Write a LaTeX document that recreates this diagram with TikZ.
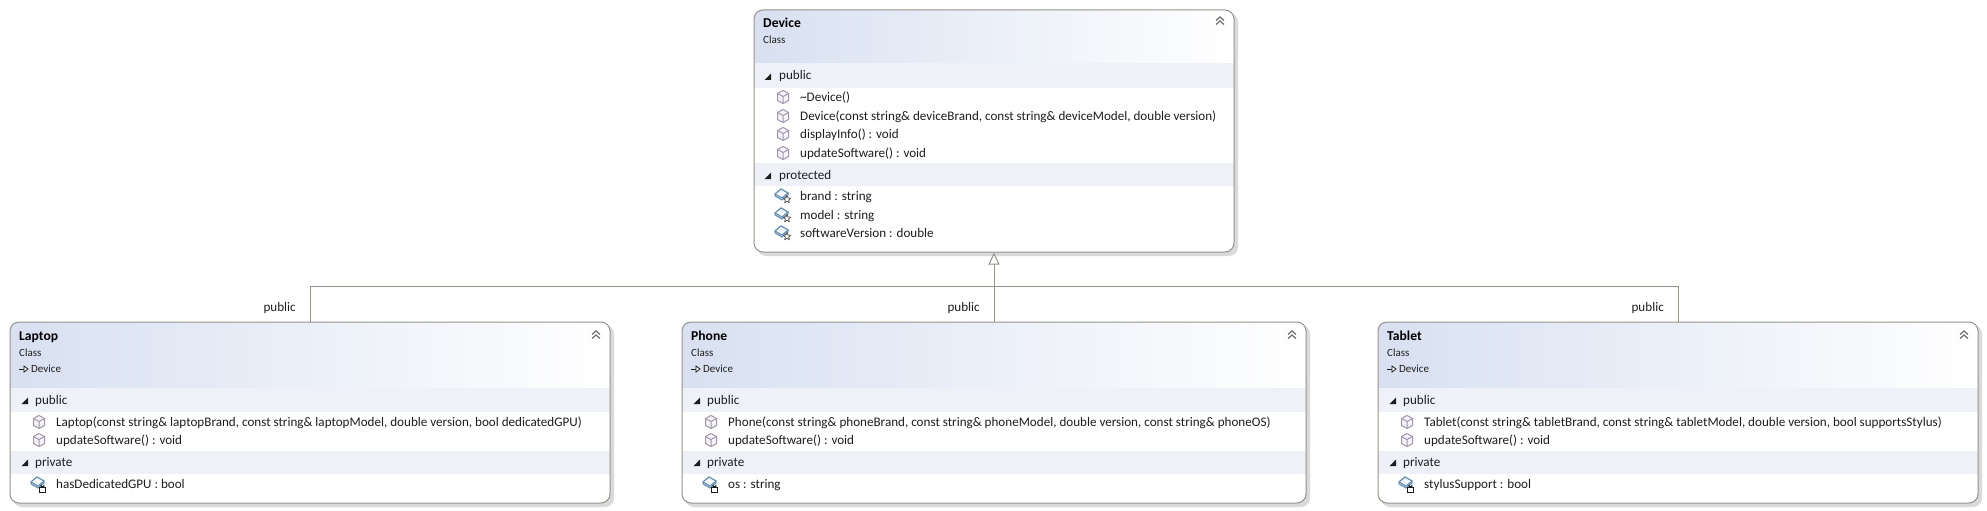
\documentclass[tikz,border=0pt]{standalone}
\usepackage{fontspec}
\setmainfont{Carlito}
\usetikzlibrary{arrows.meta,backgrounds}

\definecolor{boxline}{HTML}{93938B}
\definecolor{boxshadow}{HTML}{DADADA}
\definecolor{headleft}{HTML}{D8E0F1}
\definecolor{bandfill}{HTML}{EEF1F8}
\definecolor{cubeline}{HTML}{A194B0}
\definecolor{fieldline}{HTML}{5F8AB2}
\definecolor{textdark}{HTML}{1E1E1E}

\tikzset{
    classbox/.style={draw=boxline, line width=1pt, rounded corners=9pt, inner sep=0pt},
    shadowfill/.style={fill=boxshadow, rounded corners=9pt},
    whitefill/.style={fill=white, rounded corners=9pt},
    headfill/.style={left color=headleft, right color=white, rounded corners=9pt},
    band/.style={fill=bandfill},
    link/.style={draw=boxline, line width=1pt},
    inherit/.style={link, -{Triangle[open, fill=white, length=12pt, width=11pt]}},
    title/.style={anchor=west, inner sep=0pt, yshift=-1pt, text=black, font=\fontsize{13.6}{15}\selectfont\bfseries, text height=9pt, text depth=3pt},
    kind/.style={anchor=west, inner sep=0pt, yshift=-.5pt, text=textdark, font=\fontsize{11}{13}\selectfont, text height=8pt, text depth=2pt},
    rowtext/.style={anchor=west, inner sep=0pt, yshift=-1pt, text=textdark, font=\fontsize{13.1}{16}\selectfont, text height=9pt, text depth=3pt},
    linklabel/.style={rowtext, anchor=east},
    methodicon/.pic={
        \draw[cubeline, line width=1pt, fill=cubeline!10, line join=round] (0,-6.5) -- (5.5,-3.5) -- (5.5,3.5) -- (0,6.5) -- (-5.5,3.5) -- (-5.5,-3.5) -- cycle;
        \draw[cubeline, line width=1pt] (-5.5,-3.5) -- (0,-.5) -- (5.5,-3.5) (0,-.5) -- (0,6.5);
    },
    fieldbody/.pic={
        \draw[fieldline, line width=1pt, fill=fieldline!30, line join=round] (-7,-1) -- (-1,-6) -- (6,-2) -- (6,0) -- (0,5) -- (-7,1) -- cycle;
        \draw[fieldline, line width=1pt, fill=fieldline!8] (-7,-1) -- (-1,-6) -- (6,-2) -- (0,3) -- cycle;
    },
    fieldstar/.pic={
        \pic {fieldbody};
        \draw[textdark!80, line width=.7pt, fill=white, line join=round] (5,0.5) -- (6,3) -- (8.8,3.2) -- (6.7,5) -- (7.4,7.8) -- (5,6.3) -- (2.6,7.8) -- (3.3,5) -- (1.2,3.2) -- (4,3) -- cycle;
    },
    fieldlock/.pic={
        \pic {fieldbody};
        \draw[textdark, line width=.8pt, fill=white] (1.5,4) rectangle (7.5,9);
        \draw[textdark, line width=.8pt] (3,4) -- (3,2.5) arc[start angle=180, end angle=360, x radius=1.5, y radius=-1.5] -- (6,4);
    },
    expander/.pic={
        \fill[textdark] (-3.5,3) -- (3,3) -- (3,-3.5) -- cycle;
    },
    chevrons/.pic={
        \draw[textdark!65, line width=1.2pt] (-4,-.5) -- (0,-4) -- (4,-.5) (-4,3.5) -- (0,0) -- (4,3.5);
    },
    inheritmark/.pic={
        \draw[textdark, line width=.9pt] (0,0) -- (5,0);
        \draw[textdark, line width=.8pt, fill=white] (5,-3) -- (9,0) -- (5,3) -- cycle;
    },
}

\begin{document}
\begin{tikzpicture}[x=1pt, y=-1pt]
    \useasboundingbox (0,0) rectangle (1987,511);

    % Class outlines, panels go behind them
    \node[classbox, minimum width=480pt, minimum height=242pt] (device) at (994,131) {};
    \node[classbox, minimum width=600pt, minimum height=181pt] (laptop) at (310,412.5) {};
    \node[classbox, minimum width=624pt, minimum height=181pt] (phone) at (994,412.5) {};
    \node[classbox, minimum width=600pt, minimum height=181pt] (tablet) at (1678,412.5) {};

    \begin{scope}[on background layer]
        % Device panels
        \fill[shadowfill] (757,13) rectangle (1238,256);
        \fill[whitefill] (754,10) rectangle (1234,252);
        \shade[headfill] (754,63) -- (754,10) -- (1234,10) -- (1234,63) [sharp corners] -- cycle;
        \fill[band] (754,63) rectangle (1234,88);
        \fill[band] (754,163) rectangle (1234,186);
        % Laptop panels
        \fill[shadowfill] (13,325) rectangle (614,507);
        \fill[whitefill] (10,322) rectangle (610,503);
        \shade[headfill] (10,388) -- (10,322) -- (610,322) -- (610,388) [sharp corners] -- cycle;
        \fill[band] (10,388) rectangle (610,412);
        \fill[band] (10,451) rectangle (610,474);
        % Phone panels
        \fill[shadowfill] (685,325) rectangle (1310,507);
        \fill[whitefill] (682,322) rectangle (1306,503);
        \shade[headfill] (682,388) -- (682,322) -- (1306,322) -- (1306,388) [sharp corners] -- cycle;
        \fill[band] (682,388) rectangle (1306,412);
        \fill[band] (682,451) rectangle (1306,474);
        % Tablet panels
        \fill[shadowfill] (1381,325) rectangle (1982,507);
        \fill[whitefill] (1378,322) rectangle (1978,503);
        \shade[headfill] (1378,388) -- (1378,322) -- (1978,322) -- (1978,388) [sharp corners] -- cycle;
        \fill[band] (1378,388) rectangle (1978,412);
        \fill[band] (1378,451) rectangle (1978,474);
    \end{scope}

    % Inheritance lines
    \coordinate (junction) at (994,286);
    \draw[link] (laptop.north) |- (junction);
    \draw[link] (tablet.north) |- (junction);
    \draw[inherit] (phone.north) -- (device.south);
    \node[linklabel] (laptopLink) at (296,307) {public};
    \node[linklabel] (phoneLink) at (980,307) {public};
    \node[linklabel] (tabletLink) at (1664,307) {public};

    % Device
    \node[title] (deviceName) at (763,24) {Device};
    \node[kind] (deviceKind) at (763,40) {Class};
    \pic at (1220,21) {chevrons};
    \pic at (768,77) {expander};
    \node[rowtext] (devicePublic) at (779,76) {public};
    \pic at (783,97) {methodicon};
    \node[rowtext] (deviceDtor) at (800,97) {\textasciitilde Device()};
    \pic at (783,116) {methodicon};
    \node[rowtext] (deviceCtor) at (800,116) {Device(const string\& deviceBrand, const string\& deviceModel, double version)};
    \pic at (783,134) {methodicon};
    \node[rowtext] (deviceShow) at (800,134) {displayInfo() : void};
    \pic at (783,153) {methodicon};
    \node[rowtext] (deviceUpdate) at (800,153) {updateSoftware() : void};
    \pic at (768,176) {expander};
    \node[rowtext] (deviceProtected) at (779,175) {protected};
    \pic at (782,195) {fieldstar};
    \node[rowtext] (deviceBrand) at (800,196) {brand : string};
    \pic at (782,214) {fieldstar};
    \node[rowtext] (deviceModel) at (800,215) {model : string};
    \pic at (782,232) {fieldstar};
    \node[rowtext] (deviceVersion) at (800,233) {softwareVersion : double};

    % Laptop
    \node[title] (laptopName) at (19,336) {Laptop};
    \node[kind] (laptopKind) at (19,353) {Class};
    \pic at (19,369) {inheritmark};
    \node[kind] (laptopBase) at (31,369) {Device};
    \pic at (596,335) {chevrons};
    \pic at (25,401) {expander};
    \node[rowtext] (laptopPublic) at (35,400) {public};
    \pic at (39,422) {methodicon};
    \node[rowtext] (laptopCtor) at (56,422) {Laptop(const string\& laptopBrand, const string\& laptopModel, double version, bool dedicatedGPU)};
    \pic at (39,440) {methodicon};
    \node[rowtext] (laptopUpdate) at (56,440) {updateSoftware() : void};
    \pic at (25,463) {expander};
    \node[rowtext] (laptopPrivate) at (35,462) {private};
    \pic at (38,483) {fieldlock};
    \node[rowtext] (laptopGpu) at (56,484) {hasDedicatedGPU : bool};

    % Phone
    \node[title] (phoneName) at (691,336) {Phone};
    \node[kind] (phoneKind) at (691,353) {Class};
    \pic at (691,369) {inheritmark};
    \node[kind] (phoneBase) at (703,369) {Device};
    \pic at (1292,335) {chevrons};
    \pic at (697,401) {expander};
    \node[rowtext] (phonePublic) at (707,400) {public};
    \pic at (711,422) {methodicon};
    \node[rowtext] (phoneCtor) at (728,422) {Phone(const string\& phoneBrand, const string\& phoneModel, double version, const string\& phoneOS)};
    \pic at (711,440) {methodicon};
    \node[rowtext] (phoneUpdate) at (728,440) {updateSoftware() : void};
    \pic at (697,463) {expander};
    \node[rowtext] (phonePrivate) at (707,462) {private};
    \pic at (710,483) {fieldlock};
    \node[rowtext] (phoneOs) at (728,484) {os : string};

    % Tablet
    \node[title] (tabletName) at (1387,336) {Tablet};
    \node[kind] (tabletKind) at (1387,353) {Class};
    \pic at (1387,369) {inheritmark};
    \node[kind] (tabletBase) at (1399,369) {Device};
    \pic at (1964,335) {chevrons};
    \pic at (1393,401) {expander};
    \node[rowtext] (tabletPublic) at (1403,400) {public};
    \pic at (1407,422) {methodicon};
    \node[rowtext] (tabletCtor) at (1424,422) {Tablet(const string\& tabletBrand, const string\& tabletModel, double version, bool supportsStylus)};
    \pic at (1407,440) {methodicon};
    \node[rowtext] (tabletUpdate) at (1424,440) {updateSoftware() : void};
    \pic at (1393,463) {expander};
    \node[rowtext] (tabletPrivate) at (1403,462) {private};
    \pic at (1406,483) {fieldlock};
    \node[rowtext] (tabletStylus) at (1424,484) {stylusSupport : bool};
\end{tikzpicture}
\end{document}
